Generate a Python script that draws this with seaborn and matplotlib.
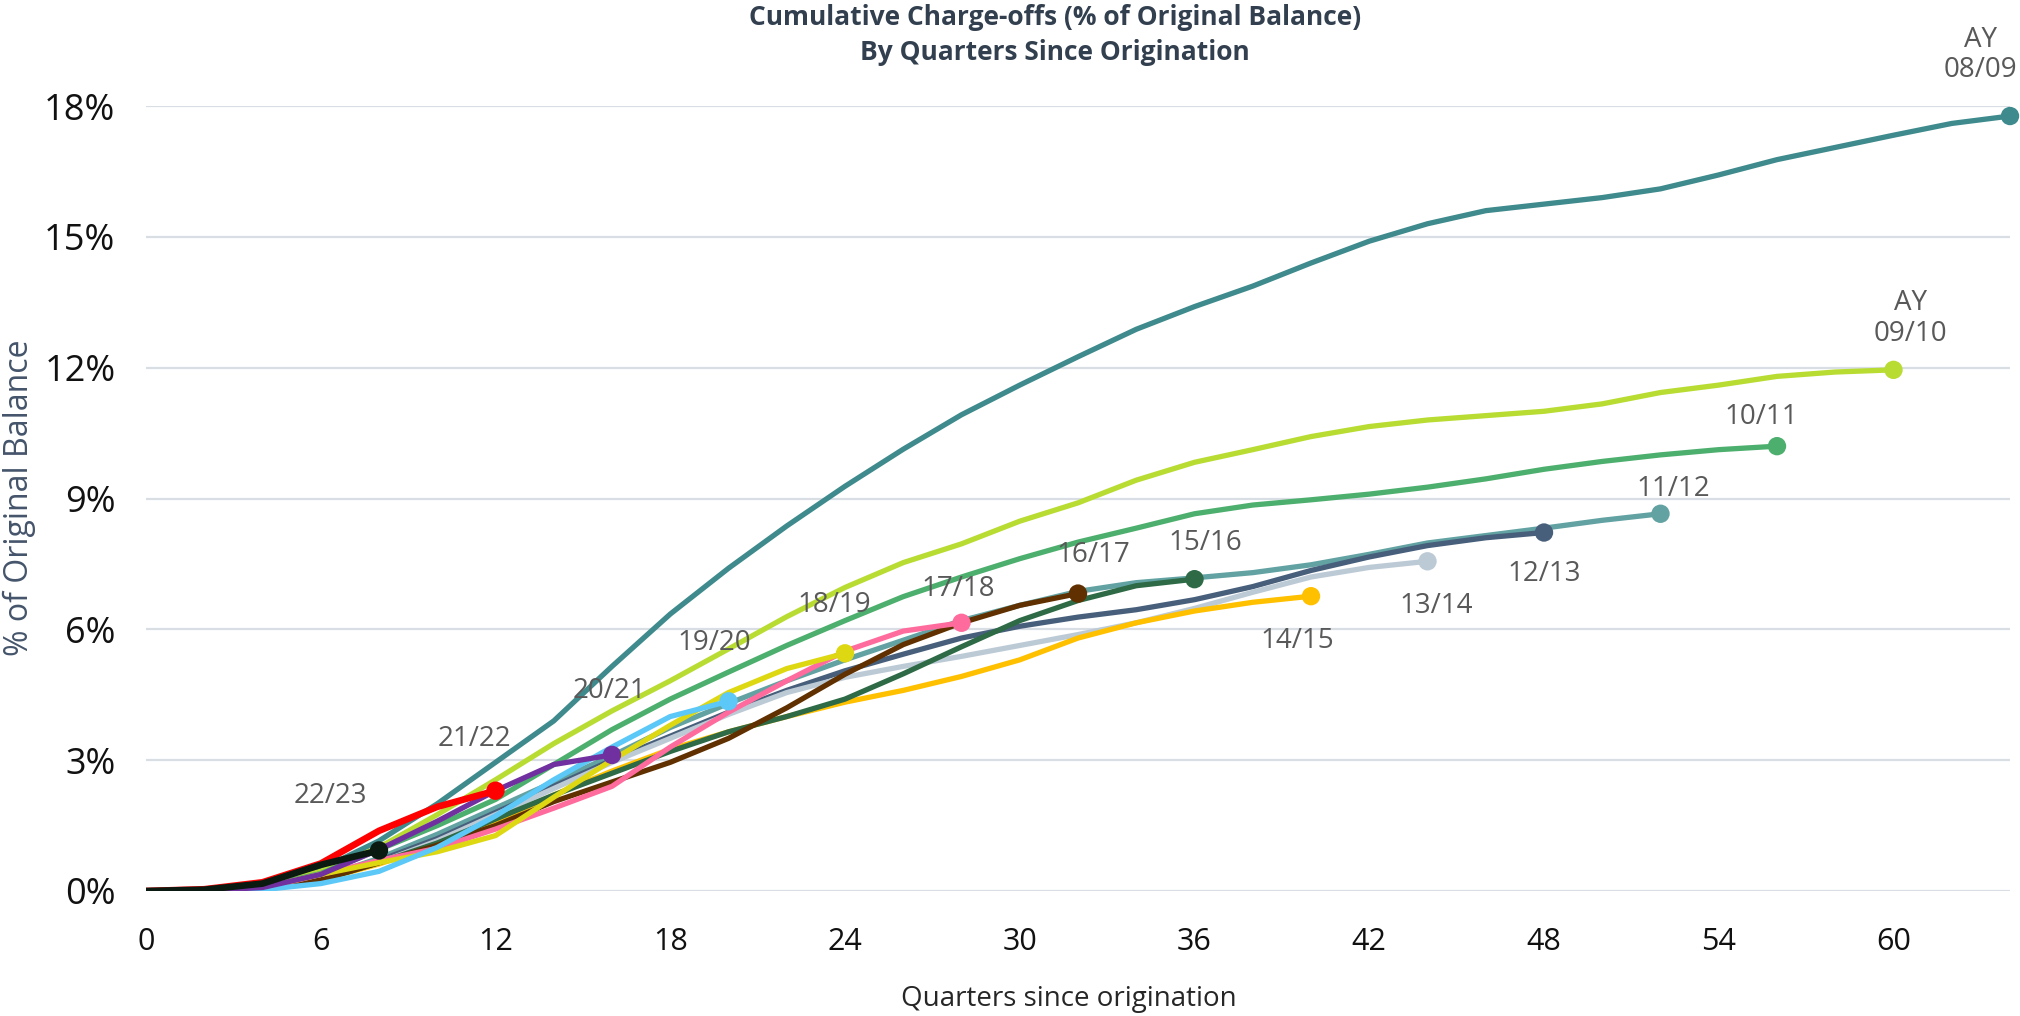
import pandas as pd
import numpy as np
import seaborn as sns
import matplotlib.pyplot as plt
import matplotlib as mpl


## Data: cumulative charge-offs (% of original balance), read every 2 quarters since origination.
cohorts = ["08/09", "09/10", "10/11", "11/12", "12/13", "13/14", "14/15",
           "15/16", "16/17", "17/18", "18/19", "19/20", "20/21", "21/22", "22/23"]
ay_0809 = [0, 0.03, 0.15, 0.5, 1.15, 2.0, 2.95, 3.9, 5.15, 6.35, 7.4, 8.37, 9.28, 10.13, 10.92, 11.6, 12.25,
           12.88, 13.4, 13.87, 14.4, 14.9, 15.3, 15.6, 15.75, 15.9, 16.1, 16.42, 16.77, 17.05, 17.33, 17.6, 17.77]
ay_0910 = [0, 0.02, 0.12, 0.45, 1.0, 1.75, 2.55, 3.38, 4.13, 4.82, 5.55, 6.29, 6.96, 7.53, 7.96, 8.48, 8.9,
           9.42, 9.83, 10.12, 10.42, 10.65, 10.8, 10.9, 11.0, 11.17, 11.43, 11.6, 11.8, 11.9, 11.95]
ay_1011 = [0, 0.02, 0.1, 0.4, 0.95, 1.5, 2.1, 2.9, 3.7, 4.4, 5.02, 5.63, 6.2, 6.75, 7.2, 7.62, 8.0,
           8.32, 8.65, 8.85, 8.97, 9.1, 9.26, 9.45, 9.67, 9.85, 10.0, 10.12, 10.2]
ay_1112 = [0, 0.01, 0.08, 0.3, 0.75, 1.3, 1.9, 2.5, 3.1, 3.75, 4.3, 4.82, 5.3, 5.75, 6.2, 6.55, 6.87,
           7.07, 7.18, 7.3, 7.48, 7.72, 7.98, 8.15, 8.32, 8.5, 8.65]
ay_1213 = [0, 0.01, 0.07, 0.28, 0.7, 1.2, 1.8, 2.4, 3.0, 3.55, 4.1, 4.6, 5.05, 5.43, 5.8, 6.07, 6.28,
           6.45, 6.68, 6.98, 7.35, 7.66, 7.92, 8.1, 8.22]
ay_1314 = [0, 0.01, 0.06, 0.25, 0.65, 1.15, 1.75, 2.35, 2.95, 3.5, 4.05, 4.55, 4.9, 5.15, 5.38, 5.63, 5.88,
           6.15, 6.48, 6.85, 7.2, 7.42, 7.56]
ay_1415 = [0, 0.01, 0.06, 0.25, 0.62, 1.05, 1.6, 2.2, 2.75, 3.25, 3.65, 4.0, 4.33, 4.6, 4.92, 5.3, 5.8,
           6.15, 6.42, 6.62, 6.76]
ay_1516 = [0, 0.01, 0.06, 0.25, 0.65, 1.1, 1.65, 2.2, 2.7, 3.2, 3.65, 4.0, 4.4, 4.98, 5.6, 6.2, 6.66, 7.0, 7.15]
ay_1617 = [0, 0.01, 0.05, 0.25, 0.65, 1.05, 1.5, 2.05, 2.5, 2.95, 3.5, 4.2, 4.97, 5.65, 6.15, 6.55, 6.82]
ay_1718 = [0, 0.01, 0.06, 0.38, 0.7, 0.98, 1.42, 1.9, 2.4, 3.3, 4.1, 4.82, 5.5, 5.96, 6.15]
ay_1819 = [0, 0.01, 0.08, 0.38, 0.65, 0.9, 1.27, 2.15, 3.0, 3.8, 4.55, 5.1, 5.45]
ay_1920 = [0, 0.0, 0.03, 0.17, 0.45, 1.0, 1.72, 2.55, 3.3, 4.0, 4.35]
ay_2021 = [0, 0.01, 0.08, 0.38, 0.95, 1.6, 2.3, 2.9, 3.12]
ay_2122 = [0, 0.04, 0.2, 0.63, 1.38, 1.93, 2.3]
ay_2223 = [0, 0.03, 0.17, 0.6, 0.93]
series = [ay_0809, ay_0910, ay_1011, ay_1112, ay_1213, ay_1314, ay_1415,
          ay_1516, ay_1617, ay_1718, ay_1819, ay_1920, ay_2021, ay_2122, ay_2223]
quarter_step = 2

x_ticks = list(range(0, 61, 6))
y_ticks = list(range(0, 19, 3))

## Styles
colors = ["#3E8A8C", "#B8DC32", "#4DAF6E", "#62A2A2", "#475F7B", "#BCCAD6", "#FFC000",
          "#2D6A45", "#603000", "#FF6B9D", "#DDD812", "#5BC8F8", "#7030A0", "#FF0000", "#0B1A10"]
palette = dict(zip(cohorts, colors))
# label text and offset (points) from each cohort's last point
label_text = {"08/09": "AY\n08/09", "09/10": "AY\n09/10"}
label_offset = {"08/09": (-21, 44), "09/10": (12, 37), "10/11": (-11, 21), "11/12": (9, 18),
                "12/13": (0, -30), "13/14": (6, -32), "14/15": (-10, -32), "15/16": (8, 26),
                "16/17": (11, 28), "17/18": (-2, 24), "18/19": (-8, 35), "19/20": (-10, 42),
                "20/21": (-2, 46), "21/22": (-15, 37), "22/23": (-35, 39)}

## Long-form table
rows = []
for name, vals in zip(cohorts, series):
    for i, v in enumerate(vals):
        rows.append((name, i * quarter_step, v))
df = pd.DataFrame(rows, columns=["Cohort", "Quarter", "Pct"])
ends = df.groupby("Cohort", sort=False).tail(1)

#-----------------------------------------Generate plot-------------------------------------------------#
sns.set_theme(style="white")
plt.rcParams['font.family'] = ['Open Sans', 'DejaVu Sans']

fig = plt.figure(figsize=(20.2, 10.16), dpi=100)
ax = fig.add_axes([146 / 2020, 1 - 891 / 1016, (2010 - 146) / 2020, (891 - 106) / 1016])

sns.lineplot(data=df, x="Quarter", y="Pct", hue="Cohort", hue_order=cohorts, palette=palette,
             linewidth=3.8, legend=False, sort=False, ax=ax)
for line, name in zip(ax.lines, cohorts):
    if name in ("21/22", "22/23"):
        line.set_linewidth(4.8)
    line.set_solid_capstyle("round")
    line.set_solid_joinstyle("round")

sns.scatterplot(data=ends, x="Quarter", y="Pct", hue="Cohort", hue_order=cohorts, palette=palette,
                s=175, edgecolor="none", legend=False, ax=ax, zorder=5, clip_on=False)

for _, r in ends.iterrows():
    ax.annotate(label_text.get(r.Cohort, r.Cohort), (r.Quarter, r.Pct), xytext=label_offset[r.Cohort],
                textcoords="offset points", ha="center", va="center", fontsize=20, color="#595959",
                linespacing=1.1, annotation_clip=False)

ax.set_xlim(0, 64)
ax.set_ylim(0, 18)
ax.set_xticks(x_ticks)
ax.set_yticks(y_ticks)
ax.set_yticklabels([f"{t}%" for t in y_ticks])
ax.tick_params(axis="y", labelsize=26, pad=22, colors="#111111", length=0)
ax.tick_params(axis="x", labelsize=22, pad=26, colors="#111111", length=0)
ax.yaxis.grid(True, color="#D9DEE4", linewidth=1.6)
ax.xaxis.grid(False)
ax.set_axisbelow(True)
for s in ax.spines.values():
    s.set_visible(False)
ax.set(xlabel=None, ylabel=None)

fig.text(19 / 2020, 1 - 498 / 1016, "% of Original Balance", rotation=90, ha="center", va="center",
         fontsize=23, color="#44546A")
fig.text(1069 / 2020, 1 - 999 / 1016, "Quarters since origination", ha="center", va="center",
         fontsize=20, color="#262626")
fig.text(1055 / 2020, 1 - 35 / 1016, "Cumulative Charge-offs (% of Original Balance)\nBy Quarters Since Origination",
         ha="center", va="center", fontsize=19, fontweight="bold", color="#323F4F", linespacing=1.4)

plt.savefig("out.png", dpi=100)
plt.close()
